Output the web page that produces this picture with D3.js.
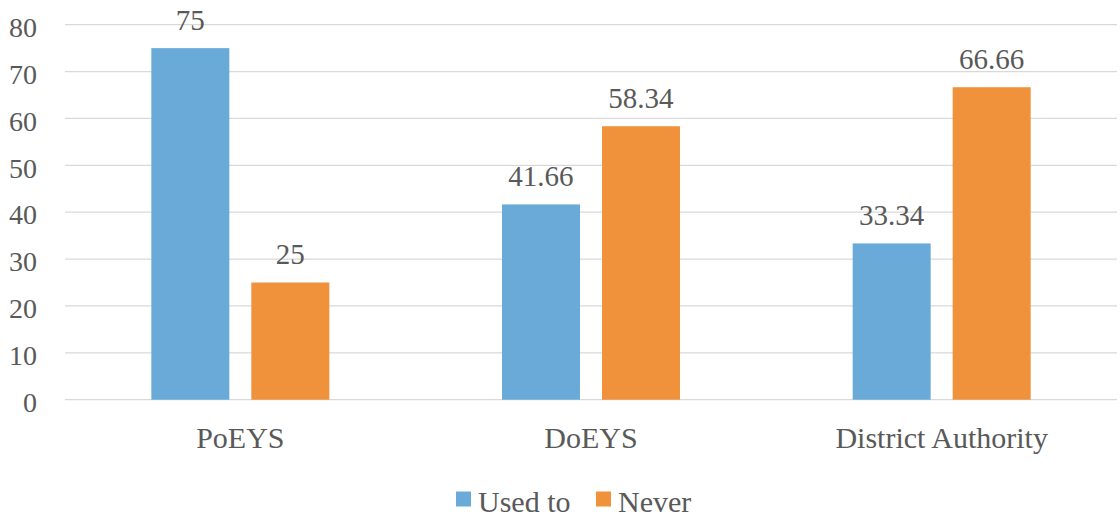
<!DOCTYPE html>
<html><head><meta charset="utf-8">
<script src="https://cdn.jsdelivr.net/npm/d3@7"></script>
<style>body{margin:0;background:#fff}svg{display:block}</style>
</head><body>
<script>
const categories = ["PoEYS", "DoEYS", "District Authority"];
const seriesNames = ["Used to", "Never"];
const usedTo = [75, 41.66, 33.34];
const never = [25, 58.34, 66.66];
const yTicks = [0, 10, 20, 30, 40, 50, 60, 70, 80];
const colors = ["#6aaad9", "#f0913b"];
const FONT = "'Liberation Serif', 'Times New Roman', serif";
const TXT = "#595959";

const W = 1120, H = 519;
const m = {left: 65, right: 3, top: 24.7, bottom: 119.3};
const svg = d3.select("body").append("svg").attr("width", W).attr("height", H)
  .style("font-family", FONT);
const x = d3.scaleBand().domain(categories).range([m.left, W - m.right]);
const y = d3.scaleLinear().domain([0, 80]).range([H - m.bottom, m.top]);
const x1 = d3.scaleBand().domain(seriesNames).range([x.bandwidth()/2 - 89, x.bandwidth()/2 + 89]).paddingInner(0.22);

// grid
svg.append("g").selectAll("line").data(yTicks).join("line")
  .attr("x1", m.left).attr("x2", W - m.right)
  .attr("y1", d => y(d)).attr("y2", d => y(d))
  .attr("stroke", "#d9d9d9").attr("stroke-width", 1.3);

// y axis labels
const yAxis = d3.axisLeft(y).tickValues(yTicks).tickSize(0).tickPadding(0);
const ya = svg.append("g").attr("transform", `translate(37,0)`).call(yAxis)
  .attr("font-family", FONT).attr("font-size", 28);
ya.select(".domain").remove();
ya.selectAll("text").attr("fill", TXT).attr("dy", "0.42em").style("font-family", FONT);

const data = categories.map((c, i) => ({c, vals: [usedTo[i], never[i]]}));
const groups = svg.append("g").selectAll("g").data(data).join("g")
  .attr("transform", d => `translate(${x(d.c)},0)`);
groups.selectAll("rect").data(d => d.vals.map((v, k) => ({k, v}))).join("rect")
  .attr("x", d => x1(seriesNames[d.k])).attr("width", x1.bandwidth())
  .attr("y", d => y(d.v)).attr("height", d => y(0) - y(d.v))
  .attr("fill", d => colors[d.k]);
groups.selectAll("text.lbl").data(d => d.vals.map((v, k) => ({k, v}))).join("text")
  .attr("class", "lbl")
  .attr("x", d => x1(seriesNames[d.k]) + x1.bandwidth()/2)
  .attr("y", d => y(d.v) - 18.5)
  .attr("text-anchor", "middle").attr("font-size", 29)
  .attr("fill", TXT).style("font-family", FONT)
  .text(d => d.v);

// x axis labels
const xAxis = d3.axisBottom(x).tickSize(0).tickPadding(0);
const xa = svg.append("g").attr("transform", `translate(0,${y(0)})`).call(xAxis)
  .attr("font-family", FONT).attr("font-size", 30);
xa.select(".domain").remove();
xa.selectAll("text").attr("fill", TXT).attr("dy", null).attr("y", 48).style("font-family", FONT);

// legend
const leg = svg.append("g");
const legX = [456, 596];
seriesNames.forEach((s, i) => {
  leg.append("rect").attr("x", legX[i]).attr("y", 491.5).attr("width", 15).attr("height", 15).attr("fill", colors[i]);
  leg.append("text").attr("x", legX[i] + 22).attr("y", 512).attr("font-size", 30)
    .attr("fill", TXT).style("font-family", FONT).text(s);
});
</script>
</body></html>
